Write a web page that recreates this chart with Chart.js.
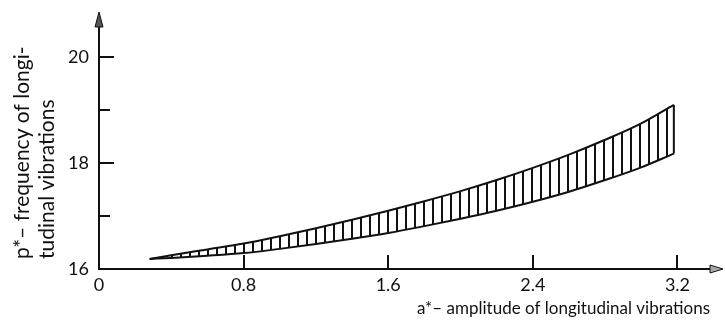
<!DOCTYPE html>
<html>
<head>
<meta charset="utf-8">
<script src="https://cdn.jsdelivr.net/npm/chart.js@4"></script>
<style>
  html, body { margin: 0; padding: 0; background: #fff; }
</style>
</head>
<body>
<canvas id="bandChart" width="725" height="327"></canvas>
<script>
// values
const AMPLITUDE = [0.28, 0.4, 0.6, 0.8, 1.0, 1.2, 1.4, 1.6, 1.8, 2.0, 2.2, 2.4, 2.6, 2.8, 3.0, 3.18];
const FREQ_UPPER = [16.19, 16.26, 16.37, 16.48, 16.62, 16.77, 16.93, 17.10, 17.28, 17.47, 17.68, 17.91, 18.16, 18.44, 18.75, 19.10];
const FREQ_LOWER = [16.19, 16.21, 16.25, 16.30, 16.38, 16.47, 16.57, 16.68, 16.81, 16.95, 17.10, 17.27, 17.46, 17.68, 17.92, 18.18];
const X_TICKS = [0, 0.8, 1.6, 2.4, 3.2];
const Y_TICKS = [16, 17, 18, 19, 20];
const Y_LABELED = [16, 18, 20];
const Y_TITLE = ["p*– frequency of longi-", "tudinal vibrations"];
const X_TITLE = "a*– amplitude of longitudinal vibrations";

const INK = "#111";
const FONT = "Lato, 'Open Sans', sans-serif";

// vertical hatching for the band
function hatchPattern() {
  const c = document.createElement("canvas");
  c.width = 9; c.height = 4;
  const g = c.getContext("2d");
  g.fillStyle = INK;
  g.fillRect(0, 0, 2, 4);
  return g.createPattern(c, "repeat");
}

const upperPts = AMPLITUDE.map((a, i) => ({ x: a, y: FREQ_UPPER[i] }));
const lowerPts = AMPLITUDE.map((a, i) => ({ x: a, y: FREQ_LOWER[i] }));
const last = AMPLITUDE.length - 1;
const endCap = [
  { x: AMPLITUDE[last], y: FREQ_LOWER[last] },
  { x: AMPLITUDE[last], y: FREQ_UPPER[last] }
];

// inward tick marks, axis arrows and the two-line y title
const axisMarks = {
  id: "axisMarks",
  afterDraw(chart) {
    const ctx = chart.ctx;
    const ca = chart.chartArea;
    const xs = chart.scales.x;
    const ys = chart.scales.y;
    ctx.save();
    ctx.strokeStyle = INK;
    ctx.lineWidth = 2;
    for (const v of Y_TICKS) {
      if (v === 16) continue;
      const py = Math.round(ys.getPixelForValue(v));
      const len = Y_LABELED.includes(v) ? 15 : 11;
      ctx.beginPath(); ctx.moveTo(ca.left, py); ctx.lineTo(ca.left + len, py); ctx.stroke();
    }
    for (const v of X_TICKS) {
      if (v === 0) continue;
      const px = Math.round(xs.getPixelForValue(v));
      ctx.beginPath(); ctx.moveTo(px, ca.bottom); ctx.lineTo(px, ca.bottom - 14); ctx.stroke();
    }
    // y arrow
    ctx.beginPath();
    ctx.moveTo(ca.left - 4, ca.top);
    ctx.lineTo(ca.left + 4, ca.top);
    ctx.lineTo(ca.left, ca.top - 15);
    ctx.closePath();
    ctx.fillStyle = "#555";
    ctx.lineWidth = 1;
    ctx.fill();
    ctx.stroke();
    // x arrow
    ctx.beginPath();
    ctx.moveTo(ca.right, ca.bottom - 4);
    ctx.lineTo(ca.right, ca.bottom + 4);
    ctx.lineTo(ca.right + 13, ca.bottom);
    ctx.closePath();
    ctx.fillStyle = "#aaa";
    ctx.fill();
    ctx.stroke();

    // y title, rotated, both lines starting near the bottom
    ctx.fillStyle = INK;
    ctx.font = "21px " + FONT;
    ctx.textAlign = "left";
    ctx.textBaseline = "middle";
    ctx.translate(0, 259);
    ctx.rotate(-Math.PI / 2);
    ctx.fillText(Y_TITLE[0], 0, 22);
    ctx.fillText(Y_TITLE[1], 0, 47);
    ctx.restore();
  }
};

new Chart(document.getElementById("bandChart"), {
  type: "line",
  data: {
    datasets: [
      {
        data: upperPts,
        borderColor: INK,
        borderWidth: 2,
        backgroundColor: hatchPattern(),
        fill: "+1",
        pointRadius: 0,
        cubicInterpolationMode: "monotone"
      },
      {
        data: lowerPts,
        borderColor: INK,
        borderWidth: 2,
        fill: false,
        pointRadius: 0,
        cubicInterpolationMode: "monotone"
      },
      {
        data: endCap,
        borderColor: INK,
        borderWidth: 2,
        fill: false,
        pointRadius: 0
      }
    ]
  },
  options: {
    responsive: false,
    animation: false,
    layout: { padding: { left: 0, top: 27, right: 15, bottom: 0 } },
    plugins: { legend: { display: false }, tooltip: { enabled: false } },
    scales: {
      x: {
        type: "linear",
        min: 0,
        max: 3.38,
        afterBuildTicks: s => { s.ticks = X_TICKS.map(v => ({ value: v })); },
        afterFit: s => { s.height = 58; },
        grid: { display: false, drawTicks: false },
        border: { display: true, color: INK, width: 2 },
        ticks: {
          color: INK,
          padding: 5,
          font: { family: FONT, size: 18 },
          callback: v => (v === 0 ? "0" : v.toFixed(1))
        },
        title: {
          display: true,
          text: X_TITLE,
          align: "end",
          color: INK,
          padding: { top: 1, bottom: 4 },
          font: { family: FONT, size: 17, lineHeight: 1.7 }
        }
      },
      y: {
        type: "linear",
        min: 16,
        max: 20.57,
        afterBuildTicks: s => { s.ticks = Y_TICKS.map(v => ({ value: v })); },
        afterFit: s => { s.width = 99; },
        grid: { display: false, drawTicks: false },
        border: { display: true, color: INK, width: 2 },
        ticks: {
          color: INK,
          padding: 10,
          font: { family: FONT, size: 18 },
          callback: v => (Y_LABELED.includes(v) ? String(v) : "")
        },
        title: { display: false }
      }
    }
  },
  plugins: [axisMarks]
});
</script>
</body>
</html>
